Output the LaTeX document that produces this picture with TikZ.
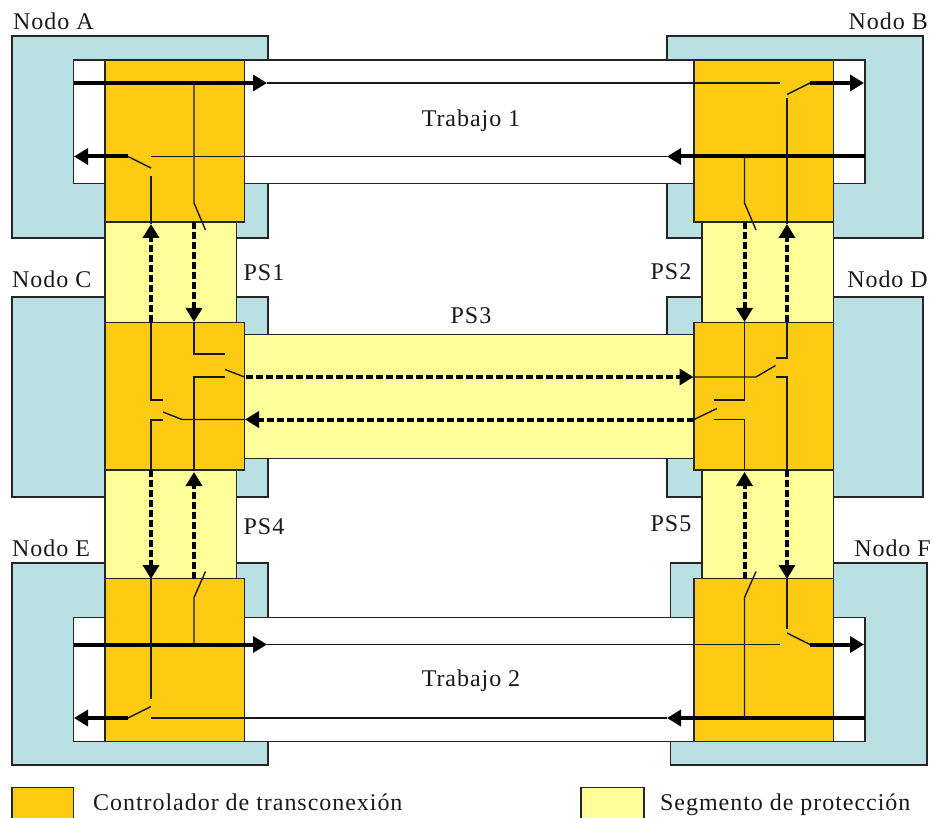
\documentclass[tikz,border=0pt]{standalone}
\usepackage{fontspec}
\setmainfont[LetterSpace=4]{Liberation Serif}
\usetikzlibrary{arrows.meta,positioning,fit}
\definecolor{nodofill}{HTML}{B9E0E2}
\definecolor{ctrlfill}{HTML}{FECB14}
\definecolor{segfill}{HTML}{FFFF99}
\newcommand{\bloque}[6]{\node[caja,fill=#1,fit={(#3,#4) (#5,#6)}] (#2) {};}
\begin{document}
\begin{tikzpicture}[x=1pt,y=-1pt,>={Triangle[length=14pt,width=16pt]},
  caja/.style={draw=black!85,line width=1.3pt,inner sep=0pt,outer sep=0pt},
  fino/.style={black!90,line width=1.4pt},
  grueso/.style={black,line width=4pt,->},
  prot/.style={black,line width=4pt,dash pattern=on 7pt off 3pt,->},
  etiq/.style={inner sep=0pt,font=\fontsize{24}{24}\selectfont,text=black!90}]
  \useasboundingbox (0,0) rectangle (932,818);
  \clip (0,0) rectangle (932,818);
  \bloque{nodofill}{nodoA}{12}{36}{268}{238} \bloque{nodofill}{nodoB}{667}{36}{923}{238}
  \bloque{nodofill}{nodoC}{12}{297}{268}{497} \bloque{nodofill}{nodoD}{667}{297}{923}{497}
  \bloque{nodofill}{nodoE}{12}{563}{268}{765} \bloque{nodofill}{nodoF}{670.5}{563}{927}{765}
  \bloque{white}{trab1}{73.5}{60}{865}{183.5} \bloque{white}{trab2}{73.5}{617.5}{865}{741.5}
  \bloque{segfill}{segPSa}{105}{222}{236.5}{322.5} \bloque{segfill}{segPSb}{702}{222}{833.5}{322.5}
  \bloque{segfill}{segPSc}{244.5}{334.5}{694}{458.5}
  \bloque{segfill}{segPSd}{105}{470}{236.5}{578.5} \bloque{segfill}{segPSe}{702}{470}{833.5}{578.5}
  \bloque{ctrlfill}{ctrlA}{105}{60}{244.5}{222} \bloque{ctrlfill}{ctrlB}{694}{60}{833.5}{222}
  \bloque{ctrlfill}{ctrlC}{105}{322.5}{244.5}{470} \bloque{ctrlfill}{ctrlD}{694}{322.5}{833.5}{470}
  \bloque{ctrlfill}{ctrlE}{105}{578.5}{244.5}{741.5} \bloque{ctrlfill}{ctrlF}{694}{578.5}{833.5}{741.5}
  \bloque{ctrlfill}{leyCtrl}{12}{787.5}{73.5}{822} \bloque{segfill}{leySeg}{581}{787.5}{644}{822}
  \coordinate (t1a) at (73.5,83); \coordinate (t1b) at (267,83); \coordinate (t1c) at (780,83);
  \coordinate (t1d) at (810,83); \coordinate (t1e) at (864,83);
  \coordinate (r1a) at (865,156.5); \coordinate (r1b) at (667,156.5); \coordinate (r1c) at (151,156.5);
  \coordinate (r1d) at (128,156.5); \coordinate (r1e) at (74,156.5);
  \coordinate (t2a) at (73.5,644.5); \coordinate (t2b) at (267,644.5); \coordinate (t2c) at (780,644.5);
  \coordinate (t2d) at (810,644.5); \coordinate (t2e) at (864,644.5);
  \coordinate (r2a) at (865,718); \coordinate (r2b) at (667,718); \coordinate (r2c) at (151,718);
  \coordinate (r2d) at (128,718); \coordinate (r2e) at (74,718);
  \draw[grueso] (t1a) -- (t1b); \draw[fino] (t1b) -- (t1c); \draw[grueso] (t1d) -- (t1e);
  \draw[grueso] (r1a) -- (r1b); \draw[fino] (r1b) -- (r1c); \draw[grueso] (r1d) -- (r1e);
  \draw[grueso] (t2a) -- (t2b); \draw[fino] (t2b) -- (t2c); \draw[grueso] (t2d) -- (t2e);
  \draw[grueso] (r2a) -- (r2b); \draw[fino] (r2b) -- (r2c); \draw[grueso] (r2d) -- (r2e);
  \coordinate (a1) at (151,176); \coordinate (a2) at (151,224); \coordinate (a3) at (151,168);
  \coordinate (a4) at (194,83); \coordinate (a5) at (194,203); \coordinate (a6) at (205.5,230);
  \draw[fino] (a1) -- (a2); \draw[fino] (r1d) -- (a3); \draw[fino] (a4) -- (a5) -- (a6);
  \coordinate (b1) at (787,98.5); \coordinate (b2) at (787,224); \coordinate (b3) at (787,94.5);
  \coordinate (b4) at (744.5,156.5); \coordinate (b5) at (744.5,203); \coordinate (b6) at (756,230);
  \draw[fino] (b1) -- (b2); \draw[fino] (t1d) -- (b3); \draw[fino] (b4) -- (b5) -- (b6);
  \coordinate (e1) at (151,578); \coordinate (e2) at (151,698.5); \coordinate (e3) at (151,706.5);
  \coordinate (e4) at (194,644.5); \coordinate (e5) at (194,597.5); \coordinate (e6) at (205.5,571.5);
  \draw[fino] (e1) -- (e2); \draw[fino] (r2d) -- (e3); \draw[fino] (e4) -- (e5) -- (e6);
  \coordinate (f1) at (787,578); \coordinate (f2) at (787,629); \coordinate (f3) at (787,633);
  \coordinate (f4) at (744.5,718); \coordinate (f5) at (744.5,597.5); \coordinate (f6) at (756,571.5);
  \draw[fino] (f1) -- (f2); \draw[fino] (t2d) -- (f3); \draw[fino] (f4) -- (f5) -- (f6);
  \coordinate (c1) at (151,322.5); \coordinate (c2) at (151,400); \coordinate (c3) at (163,400);
  \coordinate (c4) at (163,412); \coordinate (c5) at (182,419.5); \coordinate (c6) at (245,419.5);
  \coordinate (c7) at (163,420); \coordinate (c8) at (151,420); \coordinate (c9) at (151,470);
  \draw[fino] (c1) -- (c2) -- (c3); \draw[fino] (c4) -- (c5) -- (c6); \draw[fino] (c7) -- (c8) -- (c9);
  \coordinate (c10) at (194,322.5); \coordinate (c11) at (194,354); \coordinate (c12) at (225,354);
  \coordinate (c13) at (225,369.5); \coordinate (c14) at (244.5,377); \coordinate (c15) at (225,377);
  \coordinate (c16) at (194,377); \coordinate (c17) at (194,470);
  \draw[fino] (c10) -- (c11) -- (c12); \draw[fino] (c13) -- (c14); \draw[fino] (c15) -- (c16) -- (c17);
  \coordinate (d1) at (744.5,322.5); \coordinate (d2) at (744.5,400); \coordinate (d3) at (713.5,400);
  \coordinate (d4) at (717,408.5); \coordinate (d5) at (694,419.5); \coordinate (d6) at (713.5,419.5);
  \coordinate (d7) at (744.5,419.5); \coordinate (d8) at (744.5,470);
  \draw[fino] (d1) -- (d2) -- (d3); \draw[fino] (d4) -- (d5); \draw[fino] (d6) -- (d7) -- (d8);
  \coordinate (d9) at (787,322.5); \coordinate (d10) at (787,358); \coordinate (d11) at (775.5,358);
  \coordinate (d12) at (775.5,365.5); \coordinate (d13) at (756,377); \coordinate (d14) at (694,377);
  \coordinate (d15) at (775.5,377); \coordinate (d16) at (787,377); \coordinate (d17) at (787,470);
  \draw[fino] (d9) -- (d10) -- (d11); \draw[fino] (d12) -- (d13) -- (d14); \draw[fino] (d15) -- (d16) -- (d17);
  \coordinate (p1a) at (151,322); \coordinate (p1b) at (151,224); \coordinate (p1c) at (194,222); \coordinate (p1d) at (194,322);
  \coordinate (p2a) at (744.5,222); \coordinate (p2b) at (744.5,322); \coordinate (p2c) at (787,322); \coordinate (p2d) at (787,224);
  \coordinate (p3a) at (246,377); \coordinate (p3b) at (693.5,377); \coordinate (p3c) at (693.5,419.5); \coordinate (p3d) at (245,419.5);
  \coordinate (p4a) at (151,470); \coordinate (p4b) at (151,579); \coordinate (p4c) at (194,579); \coordinate (p4d) at (194,472);
  \coordinate (p5a) at (744.5,579); \coordinate (p5b) at (744.5,472); \coordinate (p5c) at (787,470); \coordinate (p5d) at (787,579);
  \draw[prot] (p1a) -- (p1b); \draw[prot] (p1c) -- (p1d);
  \draw[prot] (p2a) -- (p2b); \draw[prot] (p2c) -- (p2d);
  \draw[prot] (p3a) -- (p3b); \draw[prot] (p3c) -- (p3d);
  \draw[prot] (p4a) -- (p4b); \draw[prot] (p4c) -- (p4d);
  \draw[prot] (p5a) -- (p5b); \draw[prot] (p5c) -- (p5d);
  \node[etiq,anchor=base west] (txtA) at (13,30) {Nodo A};
  \node[etiq,anchor=base east] (txtB) at (928,30) {Nodo B};
  \node[etiq,anchor=base west] (txtC) at (12,288) {Nodo C};
  \node[etiq,anchor=base east] (txtD) at (928,288) {Nodo D};
  \node[etiq,anchor=base west] (txtE) at (12,556) {Nodo E};
  \node[etiq,anchor=base east] (txtF) at (931,556) {Nodo F};
  \node[etiq,anchor=base] (txtT1) at (471,127) {Trabajo 1};
  \node[etiq,anchor=base] (txtT2) at (471,686) {Trabajo 2};
  \node[etiq,anchor=base] (txtPSa) at (264,281) {PS1};
  \node[etiq,anchor=base] (txtPSb) at (671,280) {PS2};
  \node[etiq,anchor=base] (txtPSc) at (471,324) {PS3};
  \node[etiq,anchor=base] (txtPSd) at (264,534) {PS4};
  \node[etiq,anchor=base] (txtPSe) at (671,531) {PS5};
  \node[etiq,anchor=base west] (txtCtrl) at (93,810) {Controlador de transconexión};
  \node[etiq,anchor=base west] (txtSeg) at (660,810) {Segmento de protección};
\end{tikzpicture}
\end{document}
